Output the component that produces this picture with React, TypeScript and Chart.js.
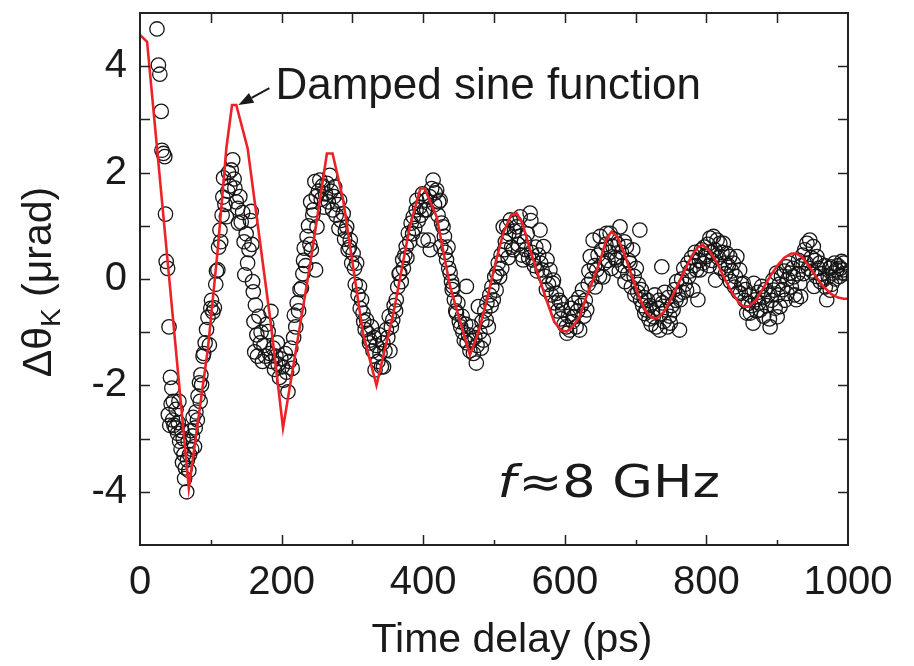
import React, { useEffect, useRef } from "react";
import { Chart, registerables } from "chart.js";

Chart.register(...registerables);

// ---- Measured Kerr rotation (time delay ps, Δθ_K µrad) ----
const measured000to200: [number, number][] = [
  [24, 4.7], [26, 4.02], [28, 3.85], [30, 3.15], [31, 2.42], [33, 2.36], [35, 2.3], [36, 1.22], [37, 0.33], [39, 0.2],
  [40, -2.55], [41, -0.9], [42, -2.75], [43, -1.85], [44, -2.35], [45, -2.05], [46, -2.65], [47, -2.3], [48, -2.75], [50, -2.8],
  [51, -2.45], [53, -2.9], [54, -2.7], [55, -2.3], [56, -3.05], [58, -3.2], [59, -2.85], [60, -3.45], [61, -3.0], [62, -3.3],
  [63, -3.75], [64, -3.55], [66, -4.0], [67, -3.4], [68, -3.05], [69, -3.6], [70, -3.3], [72, -2.85], [73, -3.2], [74, -2.95],
  [75, -2.6], [77, -3.15], [78, -2.8], [79, -2.5], [81, -2.65], [82, -2.2], [84, -1.95], [85, -2.3], [86, -1.8], [87, -1.99],
  [89, -1.45], [90, -1.4], [92, -1.2], [94, -0.95], [96, -0.72], [98, -1.24], [100, -0.55],
  [101, -0.4], [103, -0.62], [105, -0.54], [107, -0.1], [108, 0.15], [110, 0.17], [111, 0.6], [113, 0.92], [114, 0.7], [116, 1.2],
  [117, 1.54], [118, 1.9], [120, 1.4], [122, 1.17], [124, 1.65], [125, 2.0], [127, 1.75], [129, 2.05], [131, 2.24], [133, 1.88],
  [134, 1.71], [136, 1.45], [138, 1.33], [139, 1.05], [141, 1.55], [143, 1.07], [145, 1.25], [147, 0.7], [148, 0.08], [150, 0.85],
  [152, 0.3], [154, 0.55], [156, 1.1], [157, 1.27], [158, 0.65], [159, -0.05], [160, -0.24], [161, -0.8], [162, -1.37], [163, -0.49],
  [165, -1.05], [166, -1.45], [168, -0.7], [170, -1.2], [171, -1.0], [173, -1.55], [175, -1.25], [177, -1.45], [179, -0.85], [181, -0.99],
  [183, -1.4], [185, -0.61], [186, -1.55], [188, -1.3], [190, -1.7], [192, -1.45], [194, -1.2], [195, -1.6], [197, -1.85], [199, -1.5],
];

const measured200to400: [number, number][] = [
  [201, -1.65], [203, -1.9], [205, -1.4], [207, -1.75], [209, -2.12], [211, -1.55], [213, -1.3], [215, -1.68], [217, -1.1], [218, -0.68],
  [220, -0.9], [222, -0.45], [224, -0.6], [226, -0.2], [228, -0.17], [230, 0.1], [231, 0.35], [232, 0.58], [234, 0.25], [236, 0.8],
  [238, 1.0], [240, 0.65], [241, 1.45], [242, 0.55], [244, 1.2], [245, 1.3], [247, 1.83], [248, 0.17], [249, 1.55], [250, 0.98],
  [252, 1.65], [254, 1.86], [256, 1.5], [258, 1.75], [260, 1.35], [262, 1.6], [264, 1.8], [266, 1.45], [268, 1.95], [270, 1.65],
  [272, 1.3], [274, 1.55], [275, 1.73], [277, 1.2], [279, 1.4], [281, 0.95], [282, 1.48], [284, 1.1], [287, 1.23], [289, 0.75],
  [290, 0.9], [292, 0.98], [294, 0.55], [296, 0.6], [297, 0.73], [299, 0.3], [301, 0.48], [303, 0.2], [304, -0.1], [306, 0.3],
  [308, -0.3], [310, -0.14], [311, -0.55], [313, -0.39], [315, -0.64], [316, -0.8], [318, -0.95], [320, -0.77], [322, -1.02], [324, -1.2],
  [325, -1.15], [327, -0.9], [329, -1.35], [331, -1.1], [332, -1.71], [334, -1.25], [336, -1.55], [338, -1.05], [339, -1.4], [341, -1.65],
  [343, -1.2], [344, -1.65], [346, -1.35], [348, -0.95], [350, -1.1], [352, -0.7], [353, -1.35], [355, -0.9], [357, -0.77], [359, -0.5],
  [361, -0.6], [362, -0.39], [364, -0.15], [366, 0.1], [367, 0.11], [369, -0.05], [371, 0.36], [372, 0.2], [374, 0.45], [376, 0.61],
  [377, 0.4], [379, 0.86], [381, 0.7], [383, 1.05], [385, 0.85], [386, 1.17], [388, 0.95], [390, 1.3], [391, 1.48], [393, 1.1],
  [395, 1.35], [397, 1.2], [399, 1.6],
];

const measured400to600: [number, number][] = [
  [400, 0.73], [402, 1.3], [404, 1.48], [405, 1.3], [407, 0.73], [409, 1.55], [410, 0.55], [412, 1.7], [414, 1.86], [416, 1.4],
  [417, 1.62], [419, 1.67], [421, 1.2], [422, 1.45], [424, 1.48], [425, 0.61], [426, 1.05], [428, 0.98], [430, 0.8], [431, 0.5],
  [433, 0.36], [435, 0.6], [436, 0.2], [438, 0.11], [440, -0.05], [441, -0.2], [442, -0.14], [444, -0.39], [446, -0.6], [447, -0.64],
  [449, -0.45], [451, -0.8], [453, -0.9], [455, -0.7], [456, -1.0], [458, -1.15], [460, -0.85], [461, -0.14], [462, -1.2], [464, -1.05],
  [466, -1.35], [468, -0.9], [469, -1.15], [471, -1.4], [473, -1.1], [475, -1.58], [476, -1.25], [478, -0.52], [480, -1.0], [482, -1.3],
  [483, -0.8], [485, -1.15], [487, -0.6], [489, -0.77], [490, -0.45], [492, -0.9], [494, -0.3], [496, -0.5], [497, -0.15], [499, -0.39],
  [501, 0.04], [503, -0.21], [504, 0.11], [506, 0.3], [508, 0.04], [510, 0.45], [511, 0.2], [513, 0.98], [515, 0.55], [516, 0.7],
  [518, 0.98], [520, 0.4], [521, 0.85], [523, 1.11], [525, 0.6], [527, 0.55], [529, 0.9], [530, 1.05], [532, 0.98], [534, 0.65],
  [536, 0.8], [537, 1.17], [539, 0.45], [541, 0.36], [543, 0.7], [545, 0.55], [547, 0.85], [549, 0.4], [551, 1.24], [552, 1.1],
  [553, 0.5], [555, 0.36], [557, 0.25], [559, 0.6], [561, 0.15], [563, 0.45], [565, 0.92], [566, 0.3], [568, 0.17], [570, 0.61],
  [572, 0.05], [574, -0.2], [575, 0.36], [577, -0.1], [579, 0.17], [581, -0.3], [583, -0.08], [584, -0.02], [586, -0.45], [588, -0.27],
  [590, -0.6], [592, -0.4], [594, -0.75], [595, -0.45], [597, -0.58], [599, -0.85],
];

const measured600to800: [number, number][] = [
  [602, -0.9], [603, -1.02], [605, -0.7], [607, -0.96], [609, -0.55], [611, -0.8], [612, -0.71], [614, -0.45], [616, -0.9], [618, -0.6],
  [620, -0.35], [621, -0.96], [623, -0.5], [625, -0.2], [627, -0.7], [629, -0.4], [631, -0.58], [633, -0.1], [634, 0.15], [636, 0.42],
  [638, 0.0], [640, 0.73], [642, 0.25], [643, -0.15], [645, 0.17], [647, 0.45], [649, 0.05], [650, 0.8], [652, 0.55], [654, 0.04],
  [656, 0.3], [658, 0.65], [659, 0.86], [661, 0.35], [663, 0.5], [664, 0.86], [666, 0.2], [668, 0.61], [670, 0.75], [671, 0.4],
  [673, 0.36], [675, 0.65], [677, 0.15], [678, 0.98], [680, 0.5], [682, 0.25], [684, 0.7], [685, -0.05], [687, 0.61], [689, 0.1],
  [690, 0.35], [692, 0.3], [694, -0.15], [696, 0.55], [698, 0.05], [699, -0.3], [701, 0.2], [703, -0.25], [704, -0.1], [706, 0.92],
  [707, -0.39], [708, -0.2], [710, -0.5], [712, -0.35], [713, -0.65], [715, -0.58], [717, -0.4], [719, -0.75], [720, -0.5], [722, -0.85],
  [724, -0.6], [725, -0.71], [727, -0.3], [729, -0.9], [731, -0.55], [733, -0.4], [734, -0.96], [736, -0.65], [737, 0.23], [738, -0.45],
  [740, -0.8], [741, -0.25], [743, -0.58], [745, -0.9], [746, -0.35], [748, -0.7], [749, -0.83], [751, -0.5], [753, -0.58], [755, -0.2],
  [757, -0.4], [758, -0.05], [760, -0.3], [762, -0.96], [763, -0.39], [765, 0.0], [767, -0.25], [768, 0.2], [770, -0.1], [772, -0.21],
  [774, 0.3], [775, 0.05], [777, 0.15], [779, 0.4], [781, -0.21], [782, 0.25], [784, 0.5], [786, 0.17], [788, -0.39], [790, 0.35],
  [791, 0.17], [793, 0.55], [795, 0.3], [797, 0.6], [799, 0.45],
];

const measured800to1000: [number, number][] = [
  [800, 0.42], [802, 0.65], [804, 0.25], [805, 0.77], [807, 0.5], [808, 0.35], [810, 0.8], [812, 0.55], [813, -0.02], [815, 0.73],
  [817, 0.4], [819, 0.67], [820, 0.2], [822, 0.5], [824, 0.67], [826, 0.3], [827, 0.1], [829, 0.48], [831, 0.25], [833, 0.42],
  [834, -0.05], [836, 0.15], [838, 0.3], [840, -0.15], [841, 0.05], [843, 0.42], [845, -0.25], [847, 0.17], [848, -0.27], [850, -0.1],
  [852, -0.08], [854, -0.4], [855, -0.2], [857, -0.64], [859, -0.46], [861, -0.3], [862, -0.64], [864, -0.5], [866, -0.83], [867, -0.08],
  [869, -0.39], [871, -0.6], [873, -0.25], [874, -0.45], [876, -0.58], [878, -0.14], [880, -0.35], [881, -0.7], [883, -0.2], [885, -0.5],
  [887, -0.3], [889, -0.75], [890, -0.9], [892, -0.4], [894, -0.02], [895, -0.21], [897, -0.55], [899, 0.11], [900, -0.71], [901, -0.3],
  [903, -0.1], [904, -0.52], [906, 0.05], [908, -0.2], [910, 0.15], [911, -0.4], [913, 0.23], [914, -0.27], [915, 0.0], [917, 0.3],
  [918, 0.11], [920, -0.15], [922, 0.2], [923, 0.04], [925, -0.3], [927, -0.39], [929, 0.1], [930, 0.35], [932, -0.08], [933, -0.33],
  [934, 0.25], [936, 0.45], [937, 0.1], [939, 0.55], [941, 0.3], [942, 0.67], [944, 0.2], [946, 0.73], [948, 0.4], [949, 0.15],
  [951, 0.61], [952, -0.14], [953, 0.35], [955, 0.05], [956, 0.42], [958, 0.2], [960, 0.3], [961, -0.05], [963, 0.1], [965, -0.02],
  [967, 0.25], [968, -0.15], [970, -0.39], [972, 0.05], [974, 0.2], [975, -0.21], [976, 0.23], [977, -0.1], [979, 0.11], [981, 0.3],
  [982, 0.0], [984, 0.17], [986, 0.25], [988, 0.05], [989, 0.2], [991, 0.33], [993, 0.17], [994, 0.3], [995, 0.1],
];

// ---- Damped sine fit (vertices) ----
const fitCurve: [number, number][] = [
  [0, 4.59], [10, 4.46], [69, -3.93], [96, -1.3], [110, 0.58], [122, 2.46], [130, 3.27], [136, 3.27], [152, 2.46], [167, 0.95],
  [185, -0.86], [202, -2.8], [240, 0.25], [264, 2.36], [272, 2.36], [287, 1.48], [301, 0.23], [315, -1.02], [334, -2.0], [358, -0.64],
  [381, 0.98], [396, 1.7], [402, 1.7], [419, 1.17], [438, -0.14], [457, -1.02], [466, -1.43], [478, -1.0], [490, -0.39], [502, 0.3],
  [513, 0.86], [524, 1.2], [532, 1.24], [540, 1.05], [551, 0.55], [563, 0.05], [574, -0.39], [585, -0.8], [595, -0.97], [603, -0.99],
  [612, -0.88], [621, -0.71], [630, -0.35], [640, -0.02], [650, 0.35], [659, 0.75], [666, 0.89], [674, 0.8], [684, 0.48], [694, 0.08],
  [704, -0.3], [714, -0.6], [722, -0.72], [730, -0.74], [740, -0.62], [750, -0.38], [760, -0.1], [770, 0.18], [780, 0.45], [788, 0.6],
  [795, 0.64], [805, 0.52], [815, 0.3], [826, 0.0], [836, -0.25], [846, -0.45], [853, -0.52], [860, -0.52], [870, -0.4], [880, -0.18],
  [890, 0.05], [900, 0.25], [910, 0.4], [920, 0.48], [927, 0.48], [936, 0.4], [946, 0.22], [956, 0.02], [966, -0.15], [976, -0.28],
  [986, -0.35], [994, -0.37], [1000, -0.37],
];

const xRange = { min: 0, max: 1000, step: 100, labelEvery: 200 };
const yRange = { min: -5, max: 5, step: 1, labelEvery: 2 };

const SANS = "'Liberation Sans', Arial, Helvetica, sans-serif";
const INK = "#1a1a1a";

const decorPlugin = {
  id: "decor",
  afterDraw(chart: any) {
    const { ctx, chartArea: a, scales } = chart;
    const xs = scales.x;
    const ys = scales.y;
    ctx.save();

    // frame
    ctx.strokeStyle = "#222";
    ctx.lineWidth = 2;
    ctx.strokeRect(a.left, a.top, a.right - a.left, a.bottom - a.top);

    // inward ticks on all four sides
    ctx.lineWidth = 1.5;
    ctx.beginPath();
    xs.ticks.forEach((t: any) => {
      if (t.value <= xRange.min || t.value >= xRange.max) return;
      const px = Math.round(xs.getPixelForValue(t.value)) + 0.5;
      const major = t.value % xRange.labelEvery === 0;
      ctx.moveTo(px, a.bottom);
      ctx.lineTo(px, a.bottom - (major ? 10 : 5));
      ctx.moveTo(px, a.top);
      ctx.lineTo(px, a.top + 10);
    });
    ys.ticks.forEach((t: any) => {
      if (t.value <= yRange.min || t.value >= yRange.max) return;
      const py = Math.round(ys.getPixelForValue(t.value)) + 0.5;
      ctx.moveTo(a.left, py);
      ctx.lineTo(a.left + 10, py);
      ctx.moveTo(a.right, py);
      ctx.lineTo(a.right - 10, py);
    });
    ctx.stroke();

    // annotation: "Damped sine function" with arrow to first fit peak
    const tipX = xs.getPixelForValue(139);
    const tipY = ys.getPixelForValue(3.27);
    const textX = tipX + 37;
    const textBase = tipY - 6;
    ctx.fillStyle = INK;
    ctx.font = `44px ${SANS}`;
    ctx.textAlign = "left";
    ctx.textBaseline = "alphabetic";
    ctx.fillText("Damped sine function", textX, textBase);

    const tailX = textX - 6;
    const tailY = textBase - 11;
    const ang = Math.atan2(tipY - tailY, tipX - tailX);
    const headLen = 15;
    const headW = 5.5;
    const bx = tipX - headLen * Math.cos(ang);
    const by = tipY - headLen * Math.sin(ang);
    ctx.strokeStyle = INK;
    ctx.lineWidth = 2;
    ctx.beginPath();
    ctx.moveTo(tailX, tailY);
    ctx.lineTo(bx, by);
    ctx.stroke();
    ctx.beginPath();
    ctx.moveTo(tipX, tipY);
    ctx.lineTo(bx + headW * Math.sin(ang), by - headW * Math.cos(ang));
    ctx.lineTo(bx - headW * Math.sin(ang), by + headW * Math.cos(ang));
    ctx.closePath();
    ctx.fill();

    // frequency label
    const fx = xs.getPixelForValue(505);
    const fy = ys.getPixelForValue(-4.1);
    const fontF = "italic 44px 'DejaVu Sans', sans-serif";
    const fontR = "44px 'DejaVu Sans', sans-serif";
    ctx.font = fontF;
    const wF = ctx.measureText("f").width;
    ctx.font = fontR;
    const wR = ctx.measureText("≈8 GHz").width;
    const sx = 220 / (wF + wR);
    ctx.save();
    ctx.translate(fx, fy);
    ctx.scale(sx, 1);
    ctx.font = fontF;
    ctx.fillText("f", 0, 0);
    ctx.font = fontR;
    ctx.fillText("≈8 GHz", wF + 2, 0);
    ctx.restore();

    // x-axis title
    ctx.font = `41px ${SANS}`;
    ctx.textAlign = "center";
    ctx.fillText("Time delay (ps)", (a.left + a.right) / 2 + 18, a.bottom + 107);

    // y-axis title with subscript K (rotated)
    ctx.save();
    ctx.translate(51, (a.top + a.bottom) / 2 + 3);
    ctx.rotate(-Math.PI / 2);
    const mainFont = `41px ${SANS}`;
    const subFont = `28px ${SANS}`;
    ctx.font = mainFont;
    const w1 = ctx.measureText("Δθ").width;
    const w3 = ctx.measureText(" (μrad)").width;
    ctx.font = subFont;
    const w2 = ctx.measureText("K").width;
    const total = w1 + w2 + w3;
    let cx = -total / 2;
    ctx.textAlign = "left";
    ctx.font = mainFont;
    ctx.fillText("Δθ", cx, 0);
    cx += w1;
    ctx.font = subFont;
    ctx.fillText("K", cx, 9);
    cx += w2;
    ctx.font = mainFont;
    ctx.fillText(" (μrad)", cx, 0);
    ctx.restore();

    ctx.restore();
  },
};

export default function App() {
  const canvasRef = useRef<HTMLCanvasElement | null>(null);

  useEffect(() => {
    if (!canvasRef.current) return;
    const measured = [
      ...measured000to200,
      ...measured200to400,
      ...measured400to600,
      ...measured600to800,
      ...measured800to1000,
    ].map(([x, y]) => ({ x, y }));
    const fit = fitCurve.map(([x, y]) => ({ x, y }));

    const chart = new Chart(canvasRef.current, {
      type: "scatter",
      data: {
        datasets: [
          {
            label: "Damped sine function",
            data: fit,
            showLine: true,
            borderColor: "#ec2227",
            borderWidth: 2.6,
            pointRadius: 0,
            tension: 0,
            order: 0,
          },
          {
            label: "Measured",
            data: measured,
            pointStyle: "circle",
            pointRadius: 7.2,
            pointBorderWidth: 1.3,
            borderColor: "#161616",
            backgroundColor: "rgba(255,255,255,0)",
            order: 1,
          },
        ],
      },
      options: {
        animation: false,
        responsive: false,
        devicePixelRatio: 1,
        layout: { padding: { top: 13, right: 66, left: 0, bottom: 0 } },
        plugins: { legend: { display: false }, tooltip: { enabled: false } },
        scales: {
          x: {
            type: "linear",
            min: xRange.min,
            max: xRange.max,
            grid: { display: false, drawTicks: false },
            border: { display: false },
            title: { display: false },
            ticks: {
              stepSize: xRange.step,
              autoSkip: false,
              maxRotation: 0,
              padding: 14,
              color: INK,
              font: { family: SANS, size: 40 },
              callback: (v: any) => (Number(v) % xRange.labelEvery === 0 ? String(v) : ""),
            },
            afterFit: (s: any) => {
              s.height = 121;
              s.paddingLeft = 0;
              s.paddingRight = 0;
            },
          },
          y: {
            type: "linear",
            min: yRange.min,
            max: yRange.max,
            grid: { display: false, drawTicks: false },
            border: { display: false },
            title: { display: false },
            ticks: {
              stepSize: yRange.step,
              autoSkip: false,
              padding: 13,
              color: INK,
              font: { family: SANS, size: 40 },
              callback: (v: any) => {
                const n = Number(v);
                return n % yRange.labelEvery === 0 && Math.abs(n) < yRange.max ? String(n) : "";
              },
            },
            afterFit: (s: any) => {
              s.width = 140;
              s.paddingTop = 0;
              s.paddingBottom = 0;
            },
          },
        },
      },
      plugins: [decorPlugin],
    });
    return () => chart.destroy();
  }, []);

  return (
    <div style={{ position: "fixed", left: 0, top: 0, width: 914, height: 666, background: "#fff" }}>
      <canvas ref={canvasRef} width={914} height={666} style={{ width: 914, height: 666, display: "block" }} />
    </div>
  );
}
